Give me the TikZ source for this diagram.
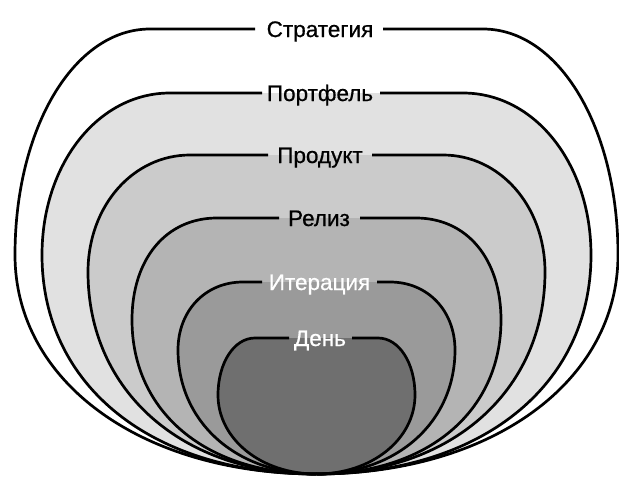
\documentclass[tikz,border=0pt]{standalone}
\usepackage{fontspec}
\setmainfont{Liberation Sans}
\newfontfamily\lblfont[FakeBold=0.7]{Liberation Sans}
\definecolor{cA}{HTML}{FFFFFF}
\definecolor{cB}{HTML}{E1E1E1}
\definecolor{cC}{HTML}{CBCBCB}
\definecolor{cD}{HTML}{B4B4B4}
\definecolor{cE}{HTML}{9A9A9A}
\definecolor{cF}{HTML}{6F6F6F}
\newcommand\setlayer[8]{\def\lT{#1}\def\lL{#2}\def\lX{#3}\def\lY{#4}\def\lbx{#5}\def\lby{#6}\def\lty{#7}\def\ltx{#8}}
\newcommand\leftpart{(316.5,474) .. controls (\lbx,474) and (\lX,\lby) .. (\lX,\lY) .. controls (\lX,\lty) and (\ltx,\lT) .. (\lL,\lT)}
\newcommand\rightpart{({633-\lL},\lT) .. controls ({633-\ltx},\lT) and ({633-\lX},\lty) .. ({633-\lX},\lY) .. controls ({633-\lX},\lby) and ({633-\lbx},474) .. (316.5,474)}
\newcommand\layA{\setlayer{29}{150}{15}{255}{142}{382}{128}{74}}
\newcommand\layB{\setlayer{93}{170}{42}{255}{152}{386}{164}{98}}
\newcommand\layC{\setlayer{155}{190}{88}{272}{182}{391}{206}{133}}
\newcommand\layD{\setlayer{218}{217}{132}{320}{206}{412}{259}{166}}
\newcommand\layE{\setlayer{282}{243}{178}{350}{236}{422}{311}{205}}
\newcommand\layF{\setlayer{338}{255}{218}{395}{261}{439}{363}{234}}
\tikzset{
  edge/.style={draw=black, line width=2.7pt, line join=round},
  lbl/.style={anchor=base, inner sep=0pt, font=\lblfont\fontsize{22.5}{27}\selectfont},
}
\begin{document}
\begin{tikzpicture}[x=1pt,y=-1pt]
\useasboundingbox (0,0) rectangle (619,477);
% fills, outer to inner
\layA \fill[cA] \leftpart -- \rightpart -- cycle;
\layB \fill[cB] \leftpart -- \rightpart -- cycle;
\layC \fill[cC] \leftpart -- \rightpart -- cycle;
\layD \fill[cD] \leftpart -- \rightpart -- cycle;
\layE \fill[cE] \leftpart -- \rightpart -- cycle;
\layF \fill[cF] \leftpart -- \rightpart -- cycle;
% outlines with gaps for labels
\layA \draw[edge] \leftpart -- (255,\lT); \draw[edge] (383,\lT) -- \rightpart;
\layB \draw[edge] \leftpart -- (262,\lT); \draw[edge] (380,\lT) -- \rightpart;
\layC \draw[edge] \leftpart -- (268,\lT); \draw[edge] (372,\lT) -- \rightpart;
\layD \draw[edge] \leftpart -- (279,\lT); \draw[edge] (360,\lT) -- \rightpart;
\layE \draw[edge] \leftpart -- (262,\lT); \draw[edge] (377,\lT) -- \rightpart;
\layF \draw[edge] \leftpart -- (289,\lT); \draw[edge] (352,\lT) -- \rightpart;
% labels
\node[lbl] (strategy) at (320,37) {Стратегия};
\node[lbl] (portfolio) at (320,101) {Портфель};
\node[lbl] (product) at (320,163) {Продукт};
\node[lbl] (release) at (319,226) {Релиз};
\node[lbl, text=white] (iteration) at (319.5,290) {Итерация};
\node[lbl, text=white] (day) at (320,346) {День};
\end{tikzpicture}
\end{document}
